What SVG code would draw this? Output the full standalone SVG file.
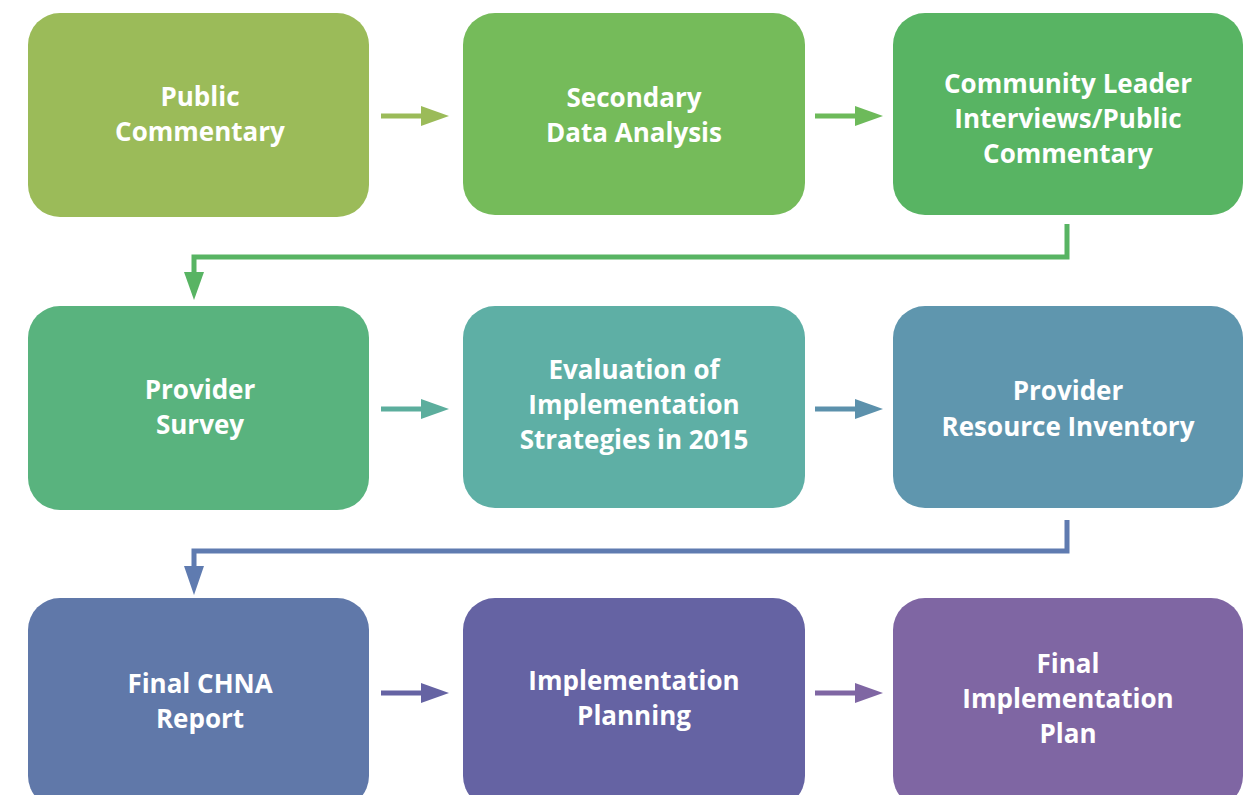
<svg xmlns="http://www.w3.org/2000/svg" width="1251" height="795" viewBox="0 0 1251 795">
<style>
.box text{font-family:"Open Sans","Liberation Sans",sans-serif;font-weight:bold;font-size:26px;fill:#fff;text-anchor:middle}
.ln{fill:none;stroke-width:5}
</style>
<rect width="1251" height="795" fill="#fff"/>
<g id="n1" class="box"><rect x="28" y="13" width="341" height="204" rx="32" fill="#9BBB59"/><text x="200" y="106">Public</text><text x="200" y="141">Commentary</text></g>
<g id="n2" class="box"><rect x="463" y="13" width="342" height="202" rx="32" fill="#75BB5A"/><text x="634" y="107">Secondary</text><text x="634" y="142">Data Analysis</text></g>
<g id="n3" class="box"><rect x="893" y="13" width="350" height="202" rx="32" fill="#58B463"/><text x="1068" y="93">Community Leader</text><text x="1068" y="128">Interviews/Public</text><text x="1068" y="163">Commentary</text></g>
<g id="n4" class="box"><rect x="28" y="306" width="341" height="204" rx="32" fill="#59B37E"/><text x="200" y="399">Provider</text><text x="200" y="434">Survey</text></g>
<g id="n5" class="box"><rect x="463" y="306" width="342" height="202" rx="32" fill="#5EAFA5"/><text x="634" y="379">Evaluation of</text><text x="634" y="414">Implementation</text><text x="634" y="449">Strategies in 2015</text></g>
<g id="n6" class="box"><rect x="893" y="306" width="350" height="202" rx="32" fill="#5F96AE"/><text x="1068" y="400">Provider</text><text x="1068" y="436">Resource Inventory</text></g>
<g id="n7" class="box"><rect x="28" y="598" width="341" height="210" rx="32" fill="#6078A9"/><text x="200" y="693">Final CHNA</text><text x="200" y="728">Report</text></g>
<g id="n8" class="box"><rect x="463" y="598" width="342" height="210" rx="32" fill="#6563A3"/><text x="634" y="690">Implementation</text><text x="634" y="725">Planning</text></g>
<g id="n9" class="box"><rect x="893" y="598" width="350" height="210" rx="32" fill="#7F66A3"/><text x="1068" y="673">Final</text><text x="1068" y="708">Implementation</text><text x="1068" y="743">Plan</text></g>
<g id="connectors">
<line class="ln" x1="381" y1="116" x2="423" y2="116" stroke="#9BBB59"/><polygon points="421,106 449,116 421,126" fill="#9BBB59"/>
<line class="ln" x1="815" y1="116" x2="857" y2="116" stroke="#6DBA5A"/><polygon points="855,106 883,116 855,126" fill="#6DBA5A"/>
<polyline class="ln" points="1067,224 1067,257 194,257 194,274" stroke="#58B463"/><polygon points="184,272 194,300 204,272" fill="#58B463"/>
<line class="ln" x1="381" y1="409" x2="423" y2="409" stroke="#5CAE9D"/><polygon points="421,399 449,409 421,419" fill="#5CAE9D"/>
<line class="ln" x1="815" y1="409" x2="857" y2="409" stroke="#5C91AC"/><polygon points="855,399 883,409 855,419" fill="#5C91AC"/>
<polyline class="ln" points="1067,520 1067,551 194,551 194,568" stroke="#5F7BB0"/><polygon points="184,566 194,595 204,566" fill="#5F7BB0"/>
<line class="ln" x1="381" y1="693" x2="423" y2="693" stroke="#6563A3"/><polygon points="421,683 449,693 421,703" fill="#6563A3"/>
<line class="ln" x1="815" y1="693" x2="857" y2="693" stroke="#7F66A3"/><polygon points="855,683 883,693 855,703" fill="#7F66A3"/>
</g>
</svg>
